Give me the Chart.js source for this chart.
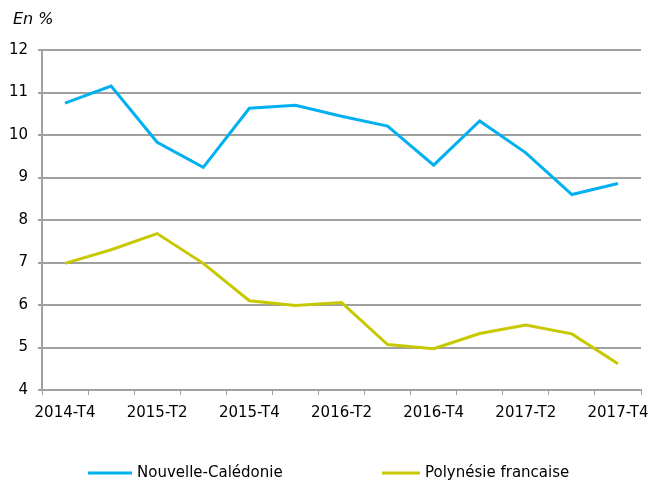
<!DOCTYPE html>
<html>
<head>
<meta charset="utf-8">
<script src="https://cdn.jsdelivr.net/npm/chart.js@4"></script>
<style>
  html, body { margin: 0; padding: 0; background: #fff; }
  #wrap { width: 651px; height: 481px; }
</style>
</head>
<body>
<div id="wrap"><canvas id="chart" width="651" height="481"></canvas></div>
<script>
const quarters = ['2014-T4', '2015-T1', '2015-T2', '2015-T3', '2015-T4', '2016-T1', '2016-T2',
                  '2016-T3', '2016-T4', '2017-T1', '2017-T2', '2017-T3', '2017-T4'];
const nouvelleCaledonie = [10.75, 11.15, 9.83, 9.24, 10.63, 10.7, 10.44, 10.21, 9.29, 10.33, 9.58, 8.6, 8.86];
const polynesie = [6.98, 7.3, 7.68, 6.98, 6.1, 5.99, 6.06, 5.07, 4.97, 5.33, 5.53, 5.32, 4.62];
const yTicks = [4, 5, 6, 7, 8, 9, 10, 11, 12];

const gridGray = '#a0a0a0';
const font = { family: 'DejaVu Sans', size: 15 };

// petit libellé d'unité en haut à gauche
const unitLabel = {
    id: 'unitLabel',
    afterDraw(chart) {
        const c = chart.ctx;
        c.save();
        c.font = 'italic 16px "DejaVu Sans"';
        c.fillStyle = '#000';
        c.textBaseline = 'middle';
        c.fillText('En %', 13, 20);
        c.restore();
    }
};

// légende en bas, dessinée à la main pour garder les écarts de l'original
const bottomLegend = {
    id: 'bottomLegend',
    afterDraw(chart) {
        const c = chart.ctx;
        const spots = [[88, 132], [382, 420]];
        c.save();
        c.font = '15px "DejaVu Sans"';
        c.textBaseline = 'middle';
        chart.data.datasets.forEach((ds, i) => {
            const [x0, x1] = spots[i];
            c.strokeStyle = ds.borderColor;
            c.lineWidth = 3;
            c.beginPath();
            c.moveTo(x0, 473);
            c.lineTo(x1, 473);
            c.stroke();
            c.fillStyle = '#000';
            c.fillText(ds.label, x1 + 5, 473);
        });
        c.restore();
    }
};

const ctx = document.getElementById('chart').getContext('2d');
new Chart(ctx, {
    type: 'line',
    data: {
        labels: quarters,
        datasets: [{
            label: 'Nouvelle-Calédonie',
            data: nouvelleCaledonie,
            borderColor: '#00b0f0',
            backgroundColor: '#00b0f0',
            borderWidth: 3,
            pointRadius: 0,
            tension: 0
        }, {
            label: 'Polynésie francaise',
            data: polynesie,
            borderColor: '#c8c800',
            backgroundColor: '#c8c800',
            borderWidth: 3,
            pointRadius: 0,
            tension: 0
        }]
    },
    options: {
        responsive: false,
        animation: false,
        layout: { padding: { top: 50, right: 10, bottom: 50, left: 0 } },
        plugins: {
            legend: { display: false },
            tooltip: { enabled: false }
        },
        scales: {
            x: {
                offset: true,
                afterFit: function (s) { s.paddingLeft = 0; s.paddingRight = 0; },
                grid: {
                    offset: true,
                    drawOnChartArea: false,
                    drawTicks: true,
                    tickLength: 5,
                    color: gridGray
                },
                border: { color: gridGray, width: 2 },
                ticks: {
                    autoSkip: false,
                    maxRotation: 0,
                    color: '#000',
                    font: font,
                    padding: 9,
                    callback: function (val, i) { return i % 2 === 0 ? quarters[i] : ''; }
                }
            },
            y: {
                min: 4,
                max: 12,
                afterFit: function (s) { s.width = 42; },
                afterBuildTicks: function (s) { s.ticks = yTicks.map(v => ({ value: v })); },
                grid: { color: gridGray, lineWidth: 2, tickLength: 4 },
                border: { color: gridGray, width: 2 },
                ticks: { color: '#000', font: font, padding: 10 }
            }
        }
    },
    plugins: [unitLabel, bottomLegend]
});
</script>
</body>
</html>
